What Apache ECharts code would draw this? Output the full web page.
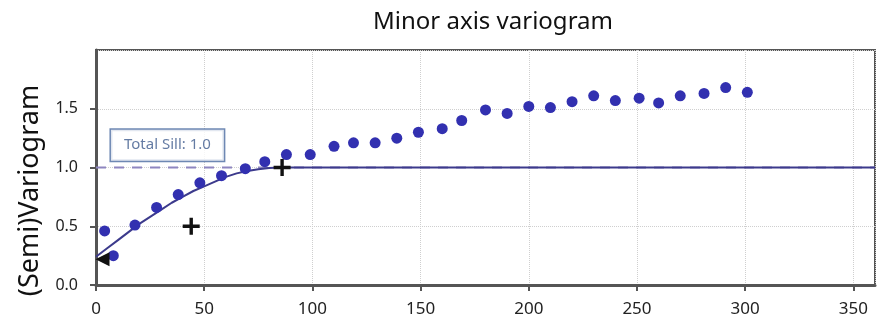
<!DOCTYPE html>
<html>
<head>
<meta charset="utf-8">
<script src="https://cdn.jsdelivr.net/npm/echarts@6/dist/echarts.min.js"></script>
<style>
  html, body { margin: 0; padding: 0; background: #fff; }
  #chart { width: 878px; height: 328px; }
</style>
</head>
<body>
<div id="chart"></div>
<script>
// experimental variogram points (lag, semivariance)
const lagX = [4, 8, 18, 28, 38, 48, 58, 69, 78, 88, 99, 110, 119, 129, 139, 149, 160, 169, 180, 190, 200, 210, 220, 230, 240, 251, 260, 270, 281, 291, 301];
const gammaY = [0.46, 0.25, 0.51, 0.66, 0.77, 0.87, 0.93, 0.99, 1.05, 1.11, 1.11, 1.18, 1.21, 1.21, 1.25, 1.30, 1.33, 1.40, 1.49, 1.46, 1.52, 1.51, 1.56, 1.61, 1.57, 1.59, 1.55, 1.61, 1.63, 1.68, 1.64];

// fitted model curve
const modelX = [0, 5, 10, 15, 20, 25, 30, 35, 40, 45, 50, 55, 60, 65, 70, 75, 80, 85, 360];
const modelY = [0.24, 0.31, 0.38, 0.45, 0.52, 0.58, 0.64, 0.70, 0.75, 0.80, 0.84, 0.88, 0.92, 0.95, 0.97, 0.985, 0.995, 1.0, 1.0];

// sill line
const sillX = [0, 360];
const sillY = [1.0, 1.0];

// black markers: nugget (triangle), range handles (plus)
const nuggetPt = [3, 0.22];
const plusPts = [[44, 0.5], [86, 1.0]];

const sillLabel = "Total Sill: 1.0";
const sillLabelPos = [33, 1.19];

const chart = echarts.init(document.getElementById("chart"));
const font = "Noto Sans";

const option = {
  animation: false,
  backgroundColor: "#fff",
  title: {
    text: "Minor axis variogram",
    left: 488,
    textAlign: "center",
    top: 5,
    textStyle: { fontFamily: font, fontSize: 24, fontWeight: "normal", color: "#111" },
  },
  grid: {
    left: 96,
    top: 50,
    right: 3,
    bottom: 43,
    show: true,
    borderColor: "#555",
    borderWidth: 2,
  },
  xAxis: {
    type: "value",
    min: 0,
    max: 360,
    interval: 50,
    axisLine: { show: true, onZero: false, lineStyle: { color: "#555", width: 3 } },
    axisTick: { show: true, length: 6, lineStyle: { color: "#555", width: 2 } },
    axisLabel: {
      fontFamily: font,
      fontSize: 17,
      color: "#222",
      margin: 16,
      showMaxLabel: false,
    },
    splitLine: { show: true, lineStyle: { type: "dotted", color: "#cfcfcf", width: 1 } },
  },
  yAxis: {
    type: "value",
    min: 0,
    max: 2,
    interval: 0.5,
    name: "(Semi)Variogram",
    nameLocation: "middle",
    nameGap: 52,
    nameTextStyle: { fontFamily: font, fontSize: 27, color: "#111", padding: [0, 46, 0, 0] },
    axisLine: { show: true, lineStyle: { color: "#555", width: 3 } },
    axisTick: { show: true, length: 6, lineStyle: { color: "#555", width: 2 } },
    axisLabel: {
      fontFamily: font,
      fontSize: 16,
      color: "#222",
      margin: 18,
      showMaxLabel: false,
      formatter: (v) => v.toFixed(1),
    },
    splitLine: { show: true, lineStyle: { type: "dotted", color: "#cfcfcf", width: 1 } },
  },
  series: [
    {
      name: "sill",
      type: "line",
      data: sillX.map((x, i) => [x, sillY[i]]),
      symbol: "none",
      lineStyle: { color: "#8e86c0", width: 2, type: [10, 8] },
      z: 2,
    },
    {
      name: "model",
      type: "line",
      data: modelX.map((x, i) => [x, modelY[i]]),
      symbol: "none",
      smooth: false,
      lineStyle: { color: "#3c3a8c", width: 2 },
      z: 3,
    },
    {
      name: "experimental",
      type: "scatter",
      data: lagX.map((x, i) => [x, gammaY[i]]),
      symbol: "circle",
      symbolSize: 11,
      itemStyle: { color: "#3230b0", opacity: 1 },
      z: 4,
    },
    {
      name: "nugget",
      type: "scatter",
      data: [nuggetPt],
      symbol: "triangle",
      symbolRotate: 90,
      symbolSize: [14, 14],
      itemStyle: { color: "#111", opacity: 1 },
      z: 5,
    },
    {
      name: "handles",
      type: "scatter",
      data: plusPts,
      symbol: "path://M4,0H6V4H10V6H6V10H4V6H0V4H4Z",
      symbolSize: 17,
      itemStyle: { color: "#111", opacity: 1 },
      z: 5,
    },
    {
      name: "sillLabel",
      type: "scatter",
      data: [sillLabelPos],
      symbolSize: 0,
      silent: true,
      label: {
        show: true,
        position: "inside",
        formatter: sillLabel,
        fontFamily: font,
        fontSize: 15,
        color: "#3d5a8c",
        backgroundColor: "#fff",
        borderColor: "#4a6aa0",
        borderWidth: 1.5,
        padding: [8, 13],
      },
      z: 6,
    },
  ],
};

chart.setOption(option);
</script>
</body>
</html>
